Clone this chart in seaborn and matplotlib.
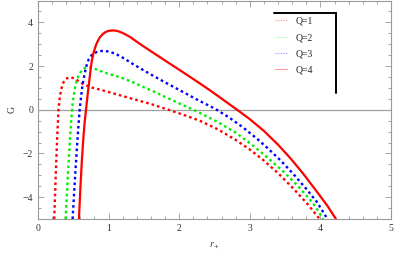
import numpy as np
import pandas as pd
import matplotlib
matplotlib.use('Agg')
import matplotlib.pyplot as plt
from matplotlib.lines import Line2D
from matplotlib.ticker import MultipleLocator
import seaborn as sns

# Values
r_q1 = [0.23, 0.25, 0.27, 0.29, 0.31, 0.33, 0.36, 0.39, 0.43, 0.47, 0.52, 0.58, 0.65,
        0.76, 0.88, 1.1, 1.35, 1.6, 1.82, 2.05, 2.29, 2.55, 2.8, 3.0, 3.19, 3.4, 3.6,
        3.8, 3.99]
g_q1 = [-5, -3.1, -1.4, 0, 0.6, 0.95, 1.25, 1.4, 1.47, 1.48, 1.43, 1.3, 1.15,
        1.02, 0.92, 0.72, 0.49, 0.26, 0.03, -0.22, -0.5, -0.9, -1.38, -1.82, -2.3, -2.9, -3.55,
        -4.25, -5]

r_q2 = [0.39, 0.41, 0.43, 0.45, 0.47, 0.49, 0.52, 0.55, 0.58, 0.62, 0.66, 0.7, 0.75,
        0.8, 0.88, 1.0, 1.1, 1.22, 1.35, 1.5, 1.65, 1.82, 2.0, 2.2, 2.29, 2.55, 2.8,
        3.05, 3.29, 3.5, 3.7, 3.9, 4.04]
g_q2 = [-5, -3.8, -2.6, -1.5, -0.5, 0.3, 0.95, 1.35, 1.6, 1.8, 1.9, 1.93, 1.92,
        1.88, 1.78, 1.64, 1.55, 1.42, 1.25, 1.03, 0.82, 0.56, 0.29, 0, -0.14, -0.57, -1.05,
        -1.65, -2.3, -2.9, -3.55, -4.3, -5]

r_q3 = [0.49, 0.51, 0.53, 0.55, 0.57, 0.59, 0.61, 0.63, 0.66, 0.69, 0.72, 0.76, 0.8,
        0.85, 0.9, 0.95, 1.02, 1.11, 1.22, 1.35, 1.5, 1.65, 1.82, 2.05, 2.29, 2.44, 2.53,
        2.7, 2.9, 3.1, 3.25, 3.43, 3.6, 3.8, 3.95, 4.1]
g_q3 = [-5, -3.9, -2.8, -1.8, -0.85, 0, 0.6, 1.1, 1.65, 2.05, 2.32, 2.5, 2.6,
        2.66, 2.69, 2.69, 2.65, 2.54, 2.35, 2.08, 1.8, 1.52, 1.22, 0.82, 0.4, 0.16, 0,
        -0.34, -0.8, -1.32, -1.75, -2.3, -2.88, -3.62, -4.22, -5]

r_q4 = [0.58, 0.6, 0.62, 0.64, 0.66, 0.68, 0.7, 0.72, 0.74, 0.76, 0.79, 0.82, 0.85,
        0.88, 0.92, 0.96, 1.0, 1.05, 1.1, 1.15, 1.22, 1.3, 1.4, 1.5, 1.65, 1.82, 2.0,
        2.15, 2.29, 2.44, 2.6, 2.82, 3.0, 3.2, 3.4, 3.57, 3.75, 3.95, 4.1, 4.22]
g_q4 = [-5, -3.6, -2.4, -1.4, -0.6, 0, 0.6, 1.15, 1.7, 2.2, 2.65, 2.95, 3.17,
        3.33, 3.47, 3.56, 3.61, 3.63, 3.62, 3.58, 3.48, 3.34, 3.11, 2.89, 2.57, 2.21, 1.83,
        1.51, 1.21, 0.88, 0.51, 0, -0.43, -0.97, -1.6, -2.2, -2.9, -3.75, -4.4, -5]

labels = ['Q=1', 'Q=2', 'Q=3', 'Q=4']
colors = ['#ff0000', '#00ee00', '#0000ff', '#ff0000']
dotted = (0, (1.1, 1.3))
styles = [dotted, dotted, dotted, '-']

sns.set_style('ticks')
plt.rcParams['font.family'] = ['Liberation Serif', 'DejaVu Serif']
plt.rcParams['mathtext.fontset'] = 'stix'

fig = plt.figure(figsize=(4.14, 2.59), dpi=100)
ax = fig.add_axes([38 / 414, 40 / 259, 353 / 414, 218.5 / 259])

curves = [(r_q1, g_q1), (r_q2, g_q2), (r_q3, g_q3), (r_q4, g_q4)]
for (r, g), lab, col, ls in zip(curves, labels, colors, styles):
    df = pd.DataFrame({'r': r, 'G': g})
    sns.lineplot(data=df, x='r', y='G', color=col, linestyle=ls,
                 linewidth=1.6 if ls == '-' else 1.7, estimator=None, sort=False,
                 ax=ax, zorder=3)

ax.axhline(0, color='#a0a0a0', lw=0.9, zorder=1)
ax.set_xlim(0, 5)
ax.set_ylim(-5, 5)
ax.xaxis.set_major_locator(MultipleLocator(1))
ax.xaxis.set_minor_locator(MultipleLocator(0.2))
ax.yaxis.set_major_locator(MultipleLocator(2))
ax.yaxis.set_minor_locator(MultipleLocator(0.5))
ax.tick_params(which='both', direction='in', top=True, right=True, color='#999999',
               labelsize=7, labelcolor='#333333', width=0.6)
ax.tick_params(which='major', length=4)
ax.tick_params(which='minor', length=2)
for s in ax.spines.values():
    s.set_color('#999999')
    s.set_linewidth(0.8)

ax.set_xlabel(r'$r_+$', fontsize=7, color='#333333', labelpad=6)
ax.set_ylabel('G', fontsize=7, color='#333333', labelpad=4)

# legend with the bracket lines drawn like the reference
handles = [Line2D([], [], color=c, linestyle=ls, lw=0.8, alpha=0.4)
           for c, ls in zip(colors, styles)]
ax.legend(handles, labels, loc='upper left', bbox_to_anchor=(0.67, 0.925),
          frameon=False, fontsize=7, handlelength=1.3, handletextpad=0.9,
          labelspacing=0.75, borderpad=0, borderaxespad=0)
ax.plot([0.669, 0.844], [0.941, 0.941], transform=ax.transAxes, color='black', lw=1.4)
ax.plot([0.844, 0.844], [0.941, 0.575], transform=ax.transAxes, color='black', lw=1.4)

fig.savefig('out.png', dpi=100)
